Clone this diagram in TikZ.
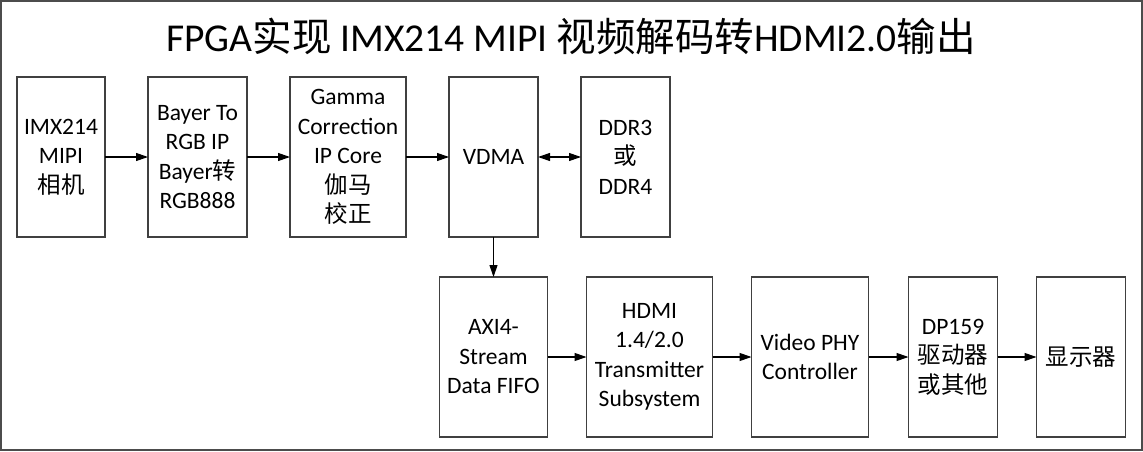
\documentclass[tikz,border=0pt]{standalone}
\usepackage{fontspec}
\setmainfont{Carlito}
\newfontfamily\cjk{Noto Sans CJK SC}
\usetikzlibrary{arrows.meta,positioning}

\begin{document}
\begin{tikzpicture}[
    x=1pt, y=1pt,
    node distance=40pt and 43pt,
    block/.style={rectangle, draw=black!75, line width=1.2pt, minimum height=160pt, inner sep=0pt, outer sep=0pt, align=center, font=\fontsize{23.5}{29.5}\selectfont},
    arrow/.style={-{Triangle[length=12pt,width=8pt]}, line width=1.1pt}
  ]
    \useasboundingbox (0,0) rectangle (1143,-452);
    \draw[black!70, line width=1.5pt] (1,-1) rectangle (1142,-450);
    \node[font=\fontsize{39.5}{46}\selectfont, anchor=base] (title) at (571,-52) {FPGA{\cjk 实现} IMX214 MIPI {\cjk 视频解码转}HDMI2.0{\cjk 输出}};
    % upper row
    \node[block, minimum width=88pt, anchor=north west] (cam) at (17,-77) {IMX214\\MIPI\\{\cjk 相机}};
    \node[block, minimum width=99pt, right=of cam] (bayer) {Bayer To\\RGB IP\\Bayer{\cjk 转}\\RGB888};
    \node[block, minimum width=116pt, right=of bayer] (gamma) {Gamma\\Correction\\IP Core\\{\cjk 伽马}\\{\cjk 校正}};
    \node[block, minimum width=89pt, right=of gamma] (vdma) {VDMA};
    \node[block, minimum width=89pt, right=of vdma] (ddr) {DDR3\\{\cjk 或}\\DDR4};
    % lower row
    \node[block, minimum width=108pt, below=of vdma] (fifo) {AXI4-\\Stream\\Data FIFO};
    \node[block, minimum width=126pt, right=39pt of fifo] (hdmi) {HDMI\\1.4/2.0\\Transmitter\\Subsystem};
    \node[block, minimum width=117pt, right=39pt of hdmi] (phy) {Video PHY\\Controller};
    \node[block, minimum width=89pt, right=40pt of phy] (dp) {DP159\\{\cjk 驱动器}\\{\cjk 或其他}};
    \node[block, minimum width=89pt, right=39pt of dp] (disp) {{\cjk 显示器}};
    \draw[arrow] (cam) -- (bayer);
    \draw[arrow] (bayer) -- (gamma);
    \draw[arrow] (gamma) -- (vdma);
    \draw[arrow, {Triangle[length=12pt,width=8pt]}-{Triangle[length=12pt,width=8pt]}] (vdma) -- (ddr);
    \draw[arrow] (vdma) -- (fifo);
    \draw[arrow] (fifo) -- (hdmi);
    \draw[arrow] (hdmi) -- (phy);
    \draw[arrow] (phy) -- (dp);
    \draw[arrow] (dp) -- (disp);
  \end{tikzpicture}
\end{document}
